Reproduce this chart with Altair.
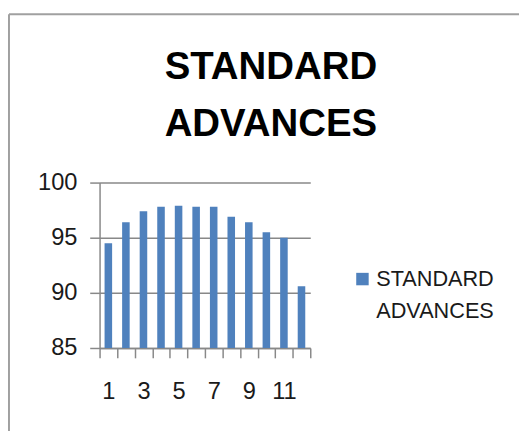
import altair as alt
import pandas as pd

months = list(range(1, 13))
values = [94.5, 96.4, 97.4, 97.8, 97.9, 97.8, 97.8, 96.9, 96.4, 95.5, 95.0, 90.6]
series_name = "STANDARD ADVANCES"
title_lines = ["STANDARD", "ADVANCES"]
y_ticks = [85, 90, 95, 100]

df = pd.DataFrame({"month": months, "value": values, "series": series_name})

W, H = 214, 168
PL, PT = 93, 174
FONT = "Liberation Sans"

bars = alt.Chart(df).mark_bar(color="#4F81BD", clip=True,
                              width=alt.RelativeBandSize(0.43)).encode(
    x=alt.X("month:O", title=None,
            scale=alt.Scale(paddingInner=0, paddingOuter=0),
            axis=alt.Axis(labelAngle=0, tickBand="extent", labelFontSize=24,
                          labelFont=FONT, labelColor="#1a1a1a", labelPadding=22,
                          tickSize=10, tickColor="#888888", domainColor="#888888",
                          domainWidth=1.5, tickWidth=1.5,
                          labelExpr="datum.value % 2 == 1 ? datum.label : ''")),
    y=alt.Y("value:Q", title=None,
            scale=alt.Scale(domain=[85, 100], nice=False, zero=False),
            axis=alt.Axis(values=y_ticks, grid=True, gridColor="#888888", gridWidth=1.5,
                          tickSize=10, tickColor="#888888", tickWidth=1.5,
                          domainColor="#888888", domainWidth=1.5,
                          labelFontSize=24, labelFont=FONT, labelColor="#1a1a1a",
                          labelPadding=13)),
    color=alt.Color("series:N", scale=alt.Scale(range=["#4F81BD"]),
                    legend=alt.Legend(title=None, orient="none", legendX=256, legendY=87,
                                      symbolType="square", symbolSize=160,
                                      labelFontSize=22, labelFont=FONT, labelColor="#1a1a1a",
                                      labelExpr="split(datum.label, ' ')",
                                      labelOffset=3,
                                      labelLimit=300, symbolStrokeWidth=0)),
)

one = pd.DataFrame({"k": [0]})
title = alt.Chart(one).mark_text(
    text=title_lines, font=FONT, fontSize=39, fontWeight="bold", color="#000000",
    baseline="alphabetic", align="center", lineHeight=58,
).encode(x=alt.value(174), y=alt.value(-105))

frame = alt.Chart(one).mark_rule(color="#a0a0a0", strokeWidth=2).encode(
    x=alt.value(-PL + 1), x2=alt.value(500), y=alt.value(-PT + 3), y2=alt.value(-PT + 3))
frame2 = alt.Chart(one).mark_rule(color="#a0a0a0", strokeWidth=2).encode(
    x=alt.value(-PL + 1), x2=alt.value(-PL + 1), y=alt.value(-PT + 3), y2=alt.value(300))

chart = alt.layer(frame, frame2, bars, title).properties(
    width=W, height=H,
    autosize=alt.AutoSizeParams(type="none"),
    padding={"left": PL, "top": PT, "right": 519 - PL - W, "bottom": 423 - PT - H},
).configure(style={"guide-label": {"lineHeight": 33}}).configure_view(stroke=None)

chart.save("out.html", embed_options={"renderer": "svg", "actions": False})
